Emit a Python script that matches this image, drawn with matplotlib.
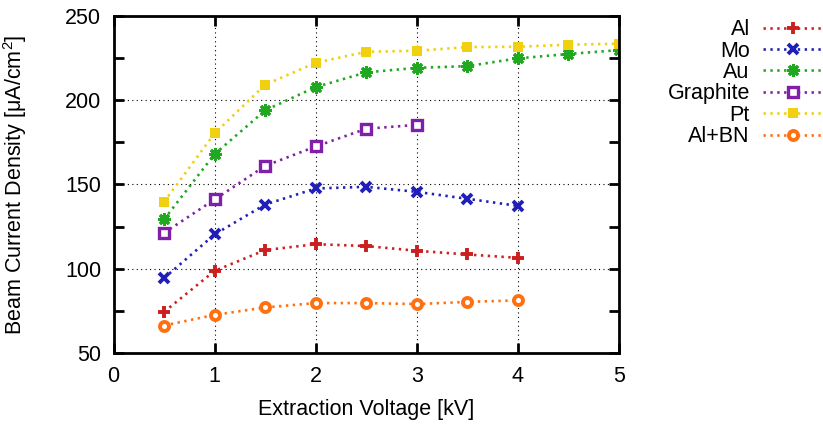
import matplotlib
matplotlib.use("Agg")
import matplotlib.pyplot as plt
from matplotlib.ticker import MultipleLocator

plt.rcParams['font.family'] = ["Liberation Sans", "DejaVu Sans"]
plt.rcParams['font.size'] = 15.5
plt.rcParams['mathtext.fontset'] = "custom"
plt.rcParams['mathtext.rm'] = "Liberation Sans"

volts = [0.5, 1.0, 1.5, 2.0, 2.5, 3.0, 3.5, 4.0, 4.5, 5.0]

al = [74.5, 98.8, 111.1, 114.6, 113.5, 110.7, 108.5, 106.5]
mo = [94.5, 120.4, 138.1, 147.6, 148.6, 145.6, 141.5, 137.3]
au = [129.3, 168.0, 193.9, 207.7, 216.4, 219.1, 220.1, 224.7, 227.3, 229.6]
graphite = [121.3, 141.1, 161.0, 172.5, 183.0, 185.3]
pt = [139.7, 180.3, 209.1, 222.1, 228.6, 229.2, 231.4, 231.6, 232.8, 233.4]
al_bn = [66.4, 72.7, 77.1, 79.7, 79.7, 79.1, 80.4, 81.3]

series = [
    ("Al", al, "#cc2020", dict(marker="+", ms=8.5, mew=2.8)),
    ("Mo", mo, "#2020b8", dict(marker="x", ms=7.5, mew=2.8)),
    ("Au", au, "#20a820", dict(marker=(8, 2, 0), ms=9, mew=2.2)),
    ("Graphite", graphite, "#8020a8", dict(marker="s", ms=6.8, mew=2.4, mfc="white")),
    ("Pt", pt, "#f0d010", dict(marker="s", ms=7.5, mew=0)),
    ("Al+BN", al_bn, "#ff7010", dict(marker="o", ms=6.5, mew=2.8, mfc="white")),
]

fig = plt.figure(figsize=(8.23, 4.24), dpi=100)
ax = fig.add_axes([0.138, 0.167, 0.614, 0.796])

for name, vals, color, mk in series:
    ax.plot(volts[:len(vals)], vals, color=color, lw=1.9,
            linestyle=(0, (0.9, 1.7)), dash_capstyle="butt",
            label=name, **mk)

ax.set_xlim(0, 5)
ax.set_ylim(50, 250)
ax.xaxis.set_major_locator(MultipleLocator(1))
ax.yaxis.set_major_locator(MultipleLocator(50))
ax.yaxis.set_minor_locator(MultipleLocator(25))
ax.tick_params(which="both", direction="in", top=True, right=True,
               width=2, length=7, labelsize=15.5, pad=9)
for sp in ax.spines.values():
    sp.set_linewidth(2)
ax.grid(True, which="major", color="black", linestyle=(0, (1, 3)), lw=0.8)

ax.set_xlabel("Extraction Voltage [kV]")
ax.set_ylabel("Beam Current Density [μA/cm$^2$]")
ax.xaxis.set_label_coords(0.5, -0.135)
ax.yaxis.set_label_coords(-0.167, 0.5)

ax.legend(loc="upper right", bbox_to_anchor=(1.0, 0.955),
          bbox_transform=fig.transFigure, frameon=False, markerfirst=False,
          handlelength=2.8, handletextpad=0.6, labelspacing=0.02,
          borderpad=0, borderaxespad=0, fontsize=15.5)

fig.savefig("out.png", dpi=100)
